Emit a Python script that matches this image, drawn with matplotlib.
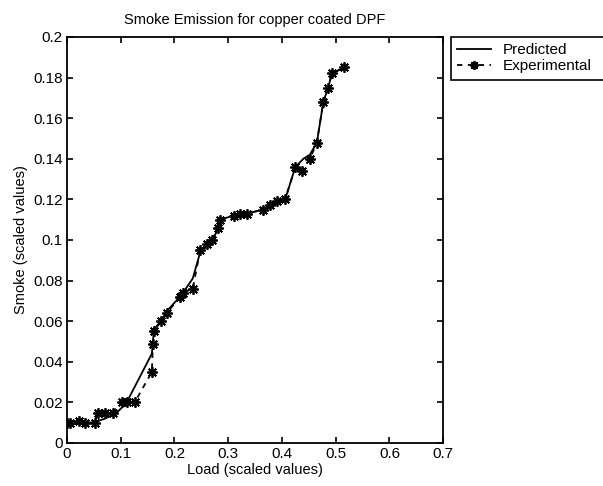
import numpy as np
import matplotlib.pyplot as plt

plt.rcParams['font.family'] = ['Liberation Sans', 'DejaVu Sans']

# experimental measurements
exp_load = [0, 0.005, 0.022, 0.034, 0.053, 0.057, 0.071, 0.085, 0.102, 0.111,
            0.126, 0.158, 0.16, 0.162, 0.175, 0.186, 0.21, 0.216, 0.234, 0.248,
            0.261, 0.27, 0.281, 0.285, 0.31, 0.322, 0.335, 0.365, 0.378, 0.39,
            0.406, 0.425, 0.437, 0.452, 0.465, 0.477, 0.486, 0.493, 0.516]
exp_smoke = [0.01, 0.01, 0.011, 0.01, 0.01, 0.015, 0.015, 0.015, 0.02, 0.02,
             0.02, 0.035, 0.049, 0.055, 0.06, 0.064, 0.072, 0.074, 0.076, 0.095,
             0.098, 0.1, 0.106, 0.11, 0.112, 0.113, 0.113, 0.115, 0.117, 0.119,
             0.12, 0.136, 0.134, 0.14, 0.148, 0.168, 0.175, 0.182, 0.185]

# model output
pred_load = [0, 0.005, 0.022, 0.034, 0.048, 0.071, 0.093, 0.108, 0.115, 0.158,
             0.16, 0.162, 0.175, 0.186, 0.21, 0.216, 0.234, 0.248, 0.261, 0.27,
             0.281, 0.285, 0.31, 0.322, 0.335, 0.365, 0.378, 0.39, 0.406, 0.425,
             0.44, 0.452, 0.465, 0.477, 0.486, 0.493, 0.516]
pred_smoke = [0.009, 0.009, 0.01, 0.01, 0.01, 0.012, 0.015, 0.019, 0.022, 0.044,
              0.05, 0.056, 0.06, 0.065, 0.072, 0.074, 0.081, 0.094, 0.097, 0.1,
              0.105, 0.11, 0.112, 0.113, 0.113, 0.115, 0.117, 0.119, 0.12, 0.136,
              0.14, 0.142, 0.148, 0.168, 0.175, 0.182, 0.185]

x_ticks = [0, 0.1, 0.2, 0.3, 0.4, 0.5, 0.6, 0.7]
x_labels = ['0', '0.1', '0.2', '0.3', '0.4', '0.5', '0.6', '0.7']
y_ticks = [0, 0.02, 0.04, 0.06, 0.08, 0.1, 0.12, 0.14, 0.16, 0.18, 0.2]
y_labels = ['0', '0.02', '0.04', '0.06', '0.08', '0.1', '0.12', '0.14',
            '0.16', '0.18', '0.2']

fig = plt.figure(figsize=(6.03, 4.86), dpi=100)
ax = fig.add_axes([0.111, 0.0885, 0.624, 0.8355])

ax.plot(pred_load, pred_smoke, color='black', lw=1.3, label='Predicted')
ax.plot(exp_load, exp_smoke, color='black', lw=1.3, ls=(0, (3, 3)),
        marker=(8, 2, 0), ms=7.5, mew=1.3, label='Experimental')

ax.set_xlim(0, 0.7)
ax.set_ylim(0, 0.2)
ax.set_xticks(x_ticks)
ax.set_xticklabels(x_labels)
ax.set_yticks(y_ticks)
ax.set_yticklabels(y_labels)
ax.tick_params(direction='in', top=True, right=True, length=4, width=1.2,
               labelsize=11, pad=3)
for s in ax.spines.values():
    s.set_linewidth(1.3)

ax.set_title('Smoke Emission for copper coated DPF', fontsize=10.5, pad=9)
ax.set_xlabel('Load (scaled values)', fontsize=10.5, labelpad=1)
ax.set_ylabel('Smoke (scaled values)', fontsize=10.5, labelpad=4)

leg = ax.legend(loc='upper left',
                bbox_to_anchor=(451 / 603, 449 / 486 - 0.01, 155 / 603, 0.01),
                bbox_transform=fig.transFigure, borderaxespad=0,
                mode='expand', fancybox=False, framealpha=1,
                edgecolor='black', fontsize=11, handlelength=2.2,
                borderpad=0.4, labelspacing=0.15, handletextpad=0.8,
                markerscale=0.85)
leg.get_frame().set_linewidth(1.2)

fig.savefig('out.png', dpi=100)
